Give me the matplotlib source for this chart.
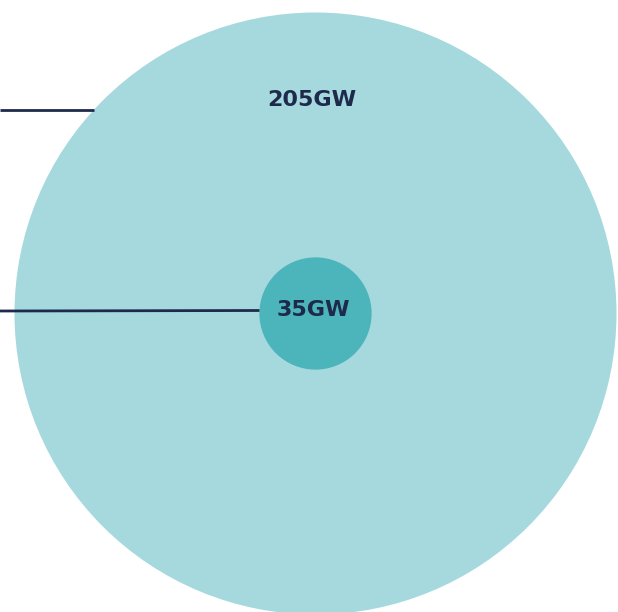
import matplotlib.pyplot as plt
import matplotlib.patches as mpatches
import numpy as np

# capacities shown as nested circles
values = [205, 35]
labels = ["205GW", "35GW"]
colors = ["#a6d9de", "#4cb5bb"]

LINE_COLOR = "#1d2a4b"
TEXT_COLOR = "#1d2a4b"
W, H = 618, 612
CX, CY = 315.5, 313.5
R_MAX = 301


def radius(v):
    return R_MAX * (v / max(values)) ** 0.95


def edge_x(r, y):
    # left edge of circle at height y
    return CX - np.sqrt(max(r ** 2 - (y - CY) ** 2, 0))


def main():
    fig = plt.figure(figsize=(W / 100, H / 100), dpi=100)
    ax = fig.add_axes([0, 0, 1, 1])
    ax.set_xlim(0, W)
    ax.set_ylim(H, 0)
    ax.set_aspect("equal")
    ax.axis("off")

    for v, c in zip(values, colors):
        ax.add_patch(mpatches.Circle((CX, CY), radius(v), facecolor=c, edgecolor="none", zorder=1))

    # leader lines to the left
    r_big = radius(values[0])
    r_small = radius(values[1])
    ax.plot([0, edge_x(r_big, 110)], [110, 110], color=LINE_COLOR, lw=2, zorder=2, solid_capstyle="butt")
    ax.plot([0, edge_x(r_small, 310.5)], [311, 310.5], color=LINE_COLOR, lw=2, zorder=2, solid_capstyle="butt")

    ax.text(CX - 4, 100, labels[0], ha="center", va="center", fontsize=16, fontweight="bold",
            color=TEXT_COLOR, family="DejaVu Sans", zorder=3)
    ax.text(CX - 2.5, 310, labels[1], ha="center", va="center", fontsize=16, fontweight="bold",
            color=TEXT_COLOR, family="DejaVu Sans", zorder=3)

    fig.savefig("out.png", dpi=100)


if __name__ == "__main__":
    main()
